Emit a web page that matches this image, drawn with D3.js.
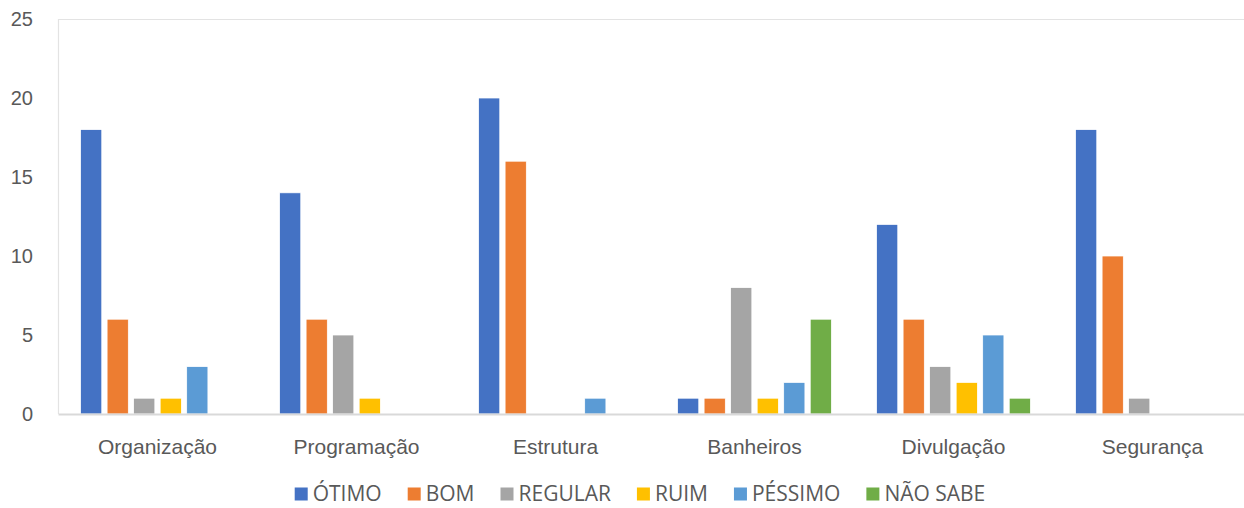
<!DOCTYPE html>
<html>
<head>
<meta charset="utf-8">
<script src="https://cdn.jsdelivr.net/npm/d3@7"></script>
<style>
  body { margin: 0; background: #fff; }
  svg { display: block; font-family: "Open Sans", "Noto Sans", sans-serif; }
</style>
</head>
<body>
<svg id="chart" width="1244" height="508"></svg>
<script>
// categories and series
const categories = ['Organização', 'Programação', 'Estrutura', 'Banheiros', 'Divulgação', 'Segurança'];
const seriesNames = ['ÓTIMO', 'BOM', 'REGULAR', 'RUIM', 'PÉSSIMO', 'NÃO SABE'];
const seriesColors = ['#4472C4', '#ED7D31', '#A5A5A5', '#FFC000', '#5B9BD5', '#70AD47'];

// values per series, in the order of categories
const otimo   = [18, 14, 20, 1, 12, 18];
const bom     = [6, 6, 16, 1, 6, 10];
const regular = [1, 5, 0, 8, 3, 1];
const ruim    = [1, 1, 0, 1, 2, 0];
const pessimo = [3, 0, 1, 2, 5, 0];
const naoSabe = [0, 0, 0, 6, 1, 0];

const yTicks = [0, 5, 10, 15, 20, 25];

const seriesValues = [otimo, bom, regular, ruim, pessimo, naoSabe];
const data = categories.map((c, i) => ({
    category: c,
    values: seriesNames.map((s, j) => ({ key: s, value: seriesValues[j][i], color: seriesColors[j] }))
}));

const MARGIN = { left: 58, top: 19, right: -8, bottom: 94 };
const WIDTH = 1244, HEIGHT = 508;
const svg = d3.select('#chart');

// scales
const x0 = d3.scaleBand()
    .domain(categories)
    .range([MARGIN.left, WIDTH - MARGIN.right]);

const x1 = d3.scaleBand()
    .domain(seriesNames)
    .range([0, x0.bandwidth()])
    .paddingInner(0.2)
    .paddingOuter(0.85);

const y = d3.scaleLinear()
    .domain([0, 25])
    .range([HEIGHT - MARGIN.bottom, MARGIN.top]);

// plot area border (left + top)
svg.append('path')
    .attr('d', `M${MARGIN.left + 0.5},${y(0)} V${MARGIN.top + 0.5} H${WIDTH}`)
    .attr('fill', 'none')
    .attr('stroke', '#e3e3e3')
    .attr('stroke-width', 1.2);

// y axis labels
const yAxis = d3.axisLeft(y).tickValues(yTicks).tickSize(0).tickPadding(25);
const gy = svg.append('g')
    .attr('transform', `translate(${MARGIN.left},0)`)
    .call(yAxis);
gy.select('.domain').remove();
gy.selectAll('text')
    .attr('fill', '#595959')
    .style('font-size', '20px');

// bars
const groups = svg.append('g')
    .selectAll('g')
    .data(data)
    .join('g')
    .attr('transform', d => `translate(${x0(d.category)},0)`);

groups.selectAll('rect')
    .data(d => d.values.filter(v => v.value > 0))
    .join('rect')
    .attr('x', d => x1(d.key))
    .attr('y', d => y(d.value))
    .attr('width', x1.bandwidth())
    .attr('height', d => y(0) - y(d.value))
    .attr('fill', d => d.color)
    .attr('stroke', '#ffffff')
    .attr('stroke-width', 0.75);

// x axis
const xAxis = d3.axisBottom(x0).tickSize(0).tickPadding(25);
const gx = svg.append('g')
    .attr('transform', `translate(0,${y(0)})`)
    .call(xAxis);
gx.select('.domain')
    .attr('stroke', '#d9d9d9')
    .attr('stroke-width', 2);
gx.selectAll('text')
    .attr('fill', '#595959')
    .style('font-size', '21px');

// legend
const legend = svg.append('g');
let lx = 0;
seriesNames.forEach((s, i) => {
    const item = legend.append('g').attr('transform', `translate(${lx},0)`);
    item.append('rect')
        .attr('x', 0)
        .attr('y', -6.5)
        .attr('width', 13)
        .attr('height', 13)
        .attr('fill', seriesColors[i]);
    const t = item.append('text')
        .attr('x', 18)
        .attr('y', 0)
        .attr('dy', '0.35em')
        .attr('fill', '#595959')
        .style('font-size', '21px')
        .text(s);
    lx += 18 + t.node().getComputedTextLength() + 26;
});
const legendWidth = lx - 26;
legend.attr('transform', `translate(${640 - legendWidth / 2},494)`);
</script>
</body>
</html>
